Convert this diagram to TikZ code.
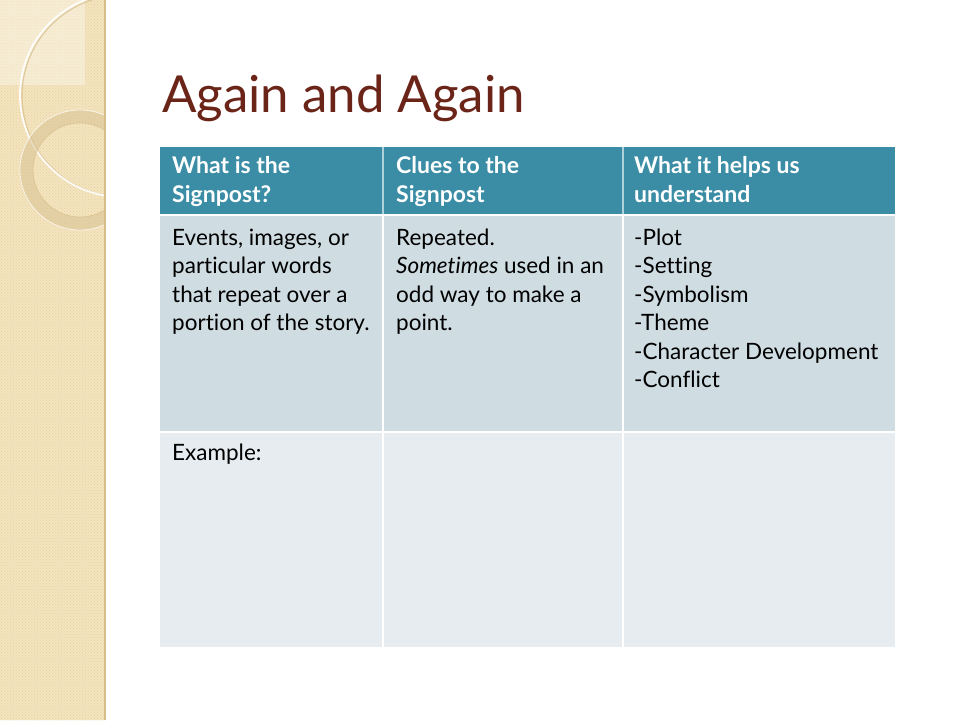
\documentclass[tikz,border=0pt]{standalone}
\usepackage{fontspec}
\setmainfont{Lato}[Ligatures=NoCommon]
\usetikzlibrary{patterns}
\definecolor{stripbase}{HTML}{F4E4BF}
\definecolor{stripdot}{HTML}{E6D19E}
\definecolor{stripedge}{HTML}{D6BD8A}
\definecolor{ringcol}{HTML}{D8C291}
\definecolor{titlecol}{HTML}{6B2418}
\definecolor{headcol}{HTML}{3A8DA5}
\definecolor{rowone}{HTML}{CFDCE2}
\definecolor{rowtwo}{HTML}{E6ECF0}
\tikzset{
  celltext/.style={anchor=north west, inner sep=0pt, align=left, font=\fontsize{22.5}{28.5}\selectfont, text=black},
  headtext/.style={celltext, font=\fontsize{23}{29}\selectfont\bfseries, text=white},
  divider/.style={white, line width=2.5pt}
}
\begin{document}
\begin{tikzpicture}[x=1pt,y=-1pt]
\useasboundingbox (0,0) rectangle (960,720);
\fill[white] (0,0) rectangle (960,720);
% left strip
\fill[stripbase] (0,0) rectangle (105,720);
\fill[pattern=crosshatch dots, pattern color=stripdot] (0,0) rectangle (105,720);
\begin{scope}
  \clip (0,0) rectangle (105,720);
  \fill[white, opacity=0.35] (0,0) rectangle (85,85);
  \draw[stripedge, line width=1.2pt, opacity=0.7] (123,96) circle (101);
  \draw[white, line width=1.8pt, opacity=0.9] (122,95) circle (102);
  \fill[ringcol, opacity=0.55, even odd rule] (80,170) circle (60) (80,170) circle (47);
  \draw[white, line width=0.8pt, opacity=0.7] (80,170) circle (60);
  \draw[stripedge, line width=0.8pt, opacity=0.6] (80,170) circle (47);
\end{scope}
\draw[stripedge, line width=2pt] (105,0) -- (105,720);
% title
\node[anchor=base west, inner sep=0pt, text=titlecol, font=\fontsize{51}{60}\selectfont] (title) at (162,112) {Again and Again};
% table
\fill[headcol] (160,147) rectangle (895,214);
\fill[rowone] (160,216) rectangle (895,431);
\fill[rowtwo] (160,433) rectangle (895,647);
\draw[divider, opacity=0.6] (383,147) -- (383,214);
\draw[divider, opacity=0.6] (623,147) -- (623,214);
\draw[divider] (383,214) -- (383,647);
\draw[divider] (623,214) -- (623,647);
% header text
\node[headtext] (h1) at (172,153) {\strut What is the\\Signpost?};
\node[headtext] (h2) at (396,153) {\strut Clues to the\\Signpost};
\node[headtext] (h3) at (634,153) {\strut What it helps us\\understand};
% row 1
\node[celltext] (c11) at (172,225) {\strut Events, images, or\\particular words\\that repeat over a\\portion of the story.};
\node[celltext] (c12) at (396,225) {\strut Repeated.\\\textit{Sometimes} used in an\\odd way to make a\\point.};
\node[celltext] (c13) at (634,225) {\strut -Plot\\-Setting\\-Symbolism\\-Theme\\-Character Development\\-Conflict};
% row 2
\node[celltext] (c21) at (172,440) {\strut Example:};
\end{tikzpicture}
\end{document}
